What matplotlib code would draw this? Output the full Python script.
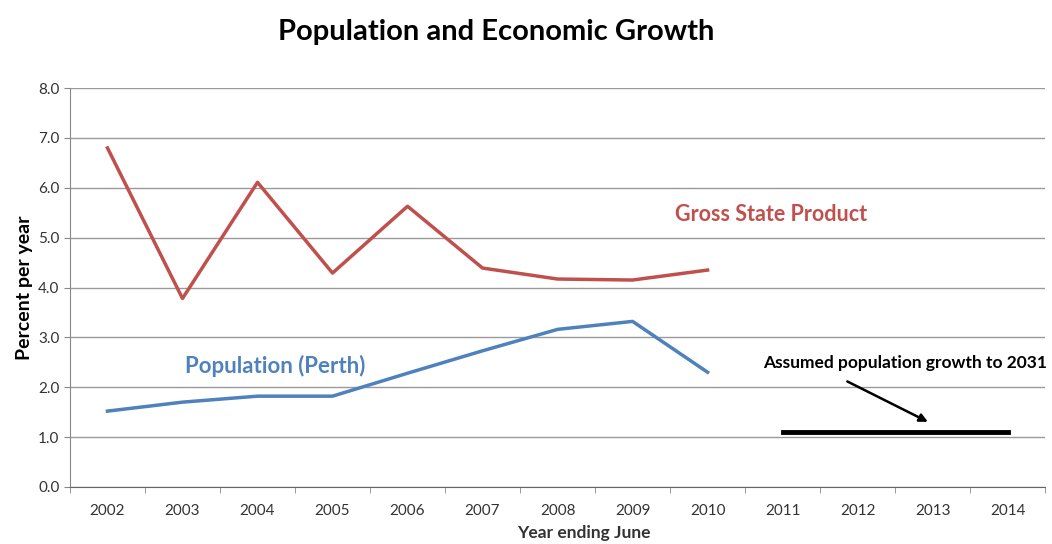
import matplotlib.pyplot as plt

plt.rcParams['font.family'] = ['Lato', 'DejaVu Sans']

years = ['2002', '2003', '2004', '2005', '2006', '2007', '2008', '2009',
         '2010', '2011', '2012', '2013', '2014']
gsp = [6.80, 3.78, 6.11, 4.29, 5.63, 4.39, 4.17, 4.15, 4.35]
population = [1.52, 1.70, 1.82, 1.82, 2.28, 2.73, 3.16, 3.32, 2.30]
assumed_years = ['2011', '2014']
assumed_growth = [1.1, 1.1]

red = '#C0504D'
blue = '#4F81BD'

fig = plt.figure(figsize=(10.52, 5.44), dpi=100)
ax = fig.add_axes([0.0665, 0.105, 0.927, 0.733])

x = list(range(len(years)))
ax.plot(x[:len(gsp)], gsp, color=red, lw=2.5)
ax.plot(x[:len(population)], population, color=blue, lw=2.5)
ax.plot([years.index(y) for y in assumed_years], assumed_growth, color='black', lw=3.5)

ax.set_xlim(-0.5, len(years) - 0.5)
ax.set_ylim(0, 8)
ax.set_yticks(range(0, 9))
ax.set_yticklabels([f'{v:.1f}' for v in range(0, 9)])
ax.set_xticks(x)
ax.set_xticklabels(years)
ax.set_xticks([i - 0.5 for i in range(len(years) + 1)], minor=True)
ax.tick_params(axis='x', which='major', length=0, pad=12, labelsize=11, colors='#333333')
ax.tick_params(axis='x', which='minor', length=4, color='#888888')
ax.tick_params(axis='y', length=4, color='#888888', labelsize=11, labelcolor='#333333')
ax.grid(axis='y', color='#9a9a9a', lw=1)
ax.set_axisbelow(True)
for s in ['top', 'right']:
    ax.spines[s].set_visible(False)
ax.spines['left'].set_color('#888888')
ax.spines['bottom'].set_color('#666666')

ax.set_ylabel('Percent per year', fontsize=14, fontweight='bold')
ax.set_xlabel('Year ending June', fontsize=12.5, fontweight='bold', color='#333333')
ax.xaxis.set_label_coords(0.527, -0.095)

ax.text(8.85, 5.47, 'Gross State Product', color=red, fontsize=15.5, fontweight='bold', ha='center', va='center')
ax.text(2.23, 2.42, 'Population (Perth)', color=blue, fontsize=16, fontweight='bold', ha='center', va='center')
ax.text(10.63, 2.48, 'Assumed population growth to 2031', fontsize=12.5, fontweight='bold', ha='center', va='center')
ax.annotate('', xy=(10.97, 1.28), xytext=(9.83, 2.14),
            arrowprops=dict(arrowstyle='-|>', color='black', lw=1.8, mutation_scale=12))

fig.suptitle('Population and Economic Growth', fontsize=21, fontweight='bold', x=0.4715, y=0.965)

fig.savefig('out.png', dpi=100)
